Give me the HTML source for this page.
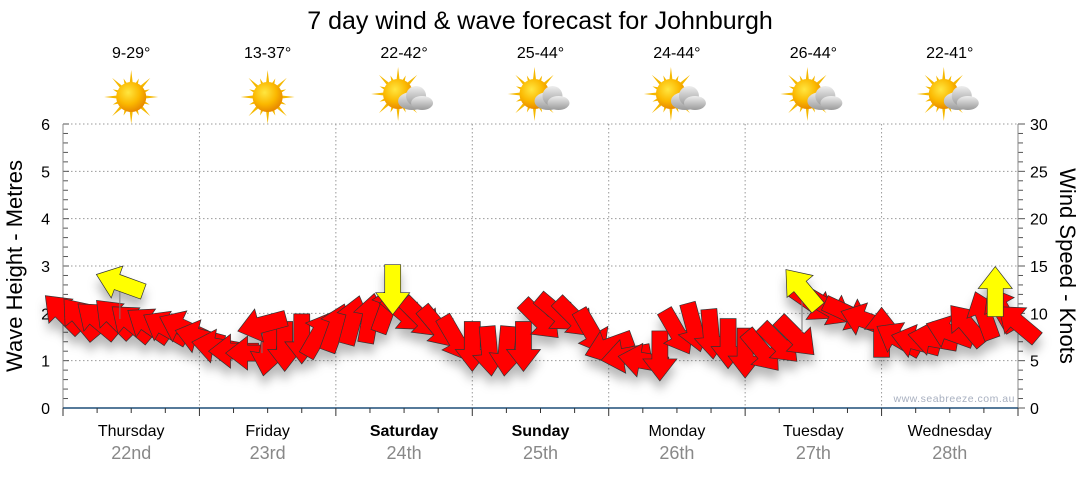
<!DOCTYPE html>
<html><head><meta charset="utf-8"><style>
body{margin:0;background:#fff;width:1080px;height:475px;overflow:hidden;font-family:"Liberation Sans",sans-serif}
</style></head><body>
<svg id="chart" width="1080" height="475" viewBox="0 0 1080 475" xmlns="http://www.w3.org/2000/svg">
<defs>
<radialGradient id="sunG" cx="40%" cy="35%" r="65%"><stop offset="0" stop-color="#ffe640"/><stop offset="0.6" stop-color="#fbb800"/><stop offset="1" stop-color="#e88a00"/></radialGradient>
<linearGradient id="cloudG" x1="0" y1="0" x2="0" y2="1"><stop offset="0" stop-color="#eee"/><stop offset="1" stop-color="#9a9a9a"/></linearGradient>
<filter id="shadow" x="-20%" y="-20%" width="140%" height="160%"><feDropShadow dx="0" dy="9" stdDeviation="5" flood-color="#000" flood-opacity="0.28"/></filter>
</defs>
<text x="540" y="29" text-anchor="middle" font-size="25" fill="#000">7 day wind &amp; wave forecast for Johnburgh</text>
<g id="grid"></g><g id="axes"></g><g id="icons"></g>
<text x="1015" y="402" text-anchor="end" font-size="10.5" fill="#a8b0c0" letter-spacing="0.5">www.seabreeze.com.au</text>
<g id="marks" filter="url(#shadow)"></g>
<text transform="translate(22,266) rotate(-90)" text-anchor="middle" font-size="22" fill="#000">Wave Height - Metres</text>
<text transform="translate(1060,266) rotate(90)" text-anchor="middle" font-size="22" fill="#000">Wind Speed - Knots</text>
</svg>
<script>
const days = ["Thursday","Friday","Saturday","Sunday","Monday","Tuesday","Wednesday"];
const dates = ["22nd","23rd","24th","25th","26th","27th","28th"];
const boldDays = [false,false,true,true,false,false,false];
const temps = ["9-29°","13-37°","22-42°","25-44°","24-44°","26-44°","22-41°"];
const cloudy = [false,false,true,true,true,true,true];
const waveTicks = [0,1,2,3,4,5,6];
const windTicks = [0,5,10,15,20,25,30];
// wind every 3 hours
const windSpeed = [10,9.5,9.3,9.5,9,8.8,8.5,8.5,7.5,6.5,6,5.8,6,6.5,7.3,7.8,8.5,9.3,9.5,10.5,10,9.5,8.5,7.3,6.5,6,6,6.5,9.3,10,9.5,8,6.5,5.5,5,5.5,8,8.5,7.8,6.8,5.8,6,6.8,7.5,11,10.5,10,9.3,8,7.3,7,7.3,8,8.8,9.8,10.5,9];
const windDir = [-135,-130,-140,-135,-140,-145,-150,-155,-165,-170,180,180,100,90,90,-60,-70,-75,-80,-70,40,45,50,60,90,85,95,90,45,40,45,60,160,170,-170,90,60,75,85,90,90,50,45,45,35,30,25,-160,-90,-150,-165,-170,-160,-130,-110,-120,-140];
const calloutHour = [10,35,58,130,164];
const calloutSpeed = [13.2,8.8,12.5,12.6,12.3];
const calloutDir = [-160,165,90,-130,-90];
const calloutBase = [9.4,5.8,10.5,8,10.5];
const calloutColor = ["#ffff00","#ff0000","#ffff00","#ffff00","#ffff00"];

const X0=63,X1=1018,Y0=408,Y1=124;
const xH=h=>X0+h*(X1-X0)/168;
const yW=v=>Y0-v*(Y0-Y1)/6;
const yK=v=>Y0-v*(Y0-Y1)/30;
const NS="http://www.w3.org/2000/svg";
function mk(parent,tag,attrs){const e=document.createElementNS(NS,tag);for(const k in attrs)e.setAttribute(k,attrs[k]);parent.appendChild(e);return e;}
const grid=document.getElementById('grid'),axes=document.getElementById('axes'),icons=document.getElementById('icons'),marks=document.getElementById('marks');

waveTicks.forEach(v=>{
  if(v>0){const l=mk(grid,'line',{x1:X0,x2:X1,y1:yW(v),y2:yW(v),stroke:'#999','stroke-dasharray':'1.5,2.5'});
  
  }
  const t=mk(axes,'text',{x:X0-13,y:yW(v)+6,'text-anchor':'end','font-size':16});t.textContent=v;
  
  
});
windTicks.forEach(v=>{
  const t=mk(axes,'text',{x:X1+12,y:yK(v)+6,'font-size':16});t.textContent=v;
  
  
});
for(let i=0;i<=30;i++){
  const y=Y0-i*(Y0-Y1)/30;
  mk(axes,'line',{x1:X0,x2:X0+(i%5==0?6:5),y1:y,y2:y,stroke:'#555'});
  mk(axes,'line',{x1:X1,x2:X1+(i%5==0?7:5),y1:y,y2:y,stroke:'#555'});
}
mk(axes,'line',{x1:X0,x2:X0,y1:Y1,y2:Y0,stroke:'#888'});
mk(axes,'line',{x1:X1,x2:X1,y1:Y1,y2:Y0,stroke:'#888'});
mk(axes,'line',{x1:X0,x2:X1,y1:Y0,y2:Y0,stroke:'#1f4e79','stroke-width':1.5});
for(let h=0;h<=168;h+=6){mk(axes,'line',{x1:xH(h),x2:xH(h),y1:Y0,y2:Y0+(h%24==0?8:5),stroke:'#333'});}
days.forEach((d,i)=>{
  const cx=xH(i*24+12);
  if(i>0){const g=mk(grid,'line',{x1:xH(i*24),x2:xH(i*24),y1:Y1,y2:Y0,stroke:'#999','stroke-dasharray':'1.5,2.5'});
  
  }
  const t=mk(axes,'text',{x:cx,y:436,'text-anchor':'middle','font-size':16,'font-weight':boldDays[i]?'bold':'normal'});t.textContent=d;
  
  
  const t2=mk(axes,'text',{x:cx,y:459,'text-anchor':'middle','font-size':18,fill:'#888'});t2.textContent=dates[i];
  
  
  const t3=mk(icons,'text',{x:cx,y:58,'text-anchor':'middle','font-size':16});t3.textContent=temps[i];
  
  
  const g=mk(icons,'g',{transform:`translate(${cx},97)`});
  
  
  const sx=cloudy[i]?-6:0,sy=cloudy[i]?-3:0;
  for(let k=0;k<16;k++){const a=k*Math.PI/8,L=(k%2==0)?27:20;
    mk(g,'polygon',{points:`${sx+Math.cos(a-0.15)*12},${sy+Math.sin(a-0.15)*12} ${sx+Math.cos(a)*L},${sy+Math.sin(a)*L} ${sx+Math.cos(a+0.15)*12},${sy+Math.sin(a+0.15)*12}`,fill:'#f5b800'});}
  mk(g,'circle',{cx:sx,cy:sy,r:15,fill:'url(#sunG)'});
  if(cloudy[i]){
    mk(g,'ellipse',{cx:8,cy:4,rx:14,ry:9,fill:'url(#cloudG)'});
    mk(g,'circle',{cx:12,cy:-1,r:10,fill:'url(#cloudG)'});
    mk(g,'ellipse',{cx:18,cy:6,rx:11,ry:7,fill:'url(#cloudG)'});
  }
});

function arrow(x,y,deg,color,name){
  const g=mk(marks,'g',{transform:`translate(${x},${y}) rotate(${deg})`});
  
  
  mk(g,'polygon',{points:'-25,-8 3,-8 3,-17 25,0 3,17 3,8 -25,8',fill:color,stroke:'#333','stroke-width':0.7});
}
windSpeed.forEach((s,i)=>{arrow(xH(i*3),yK(s),windDir[i],'#ff0000','wind-arrow');});
calloutHour.forEach((h,i)=>{
  const l=mk(marks,'line',{x1:xH(h),x2:xH(h),y1:yK(calloutBase[i]),y2:yK(calloutSpeed[i]),stroke:'#777'});
  
  
  arrow(xH(h),yK(calloutSpeed[i]),calloutDir[i],calloutColor[i],'callout-arrow');
});
</script>
</body></html>
